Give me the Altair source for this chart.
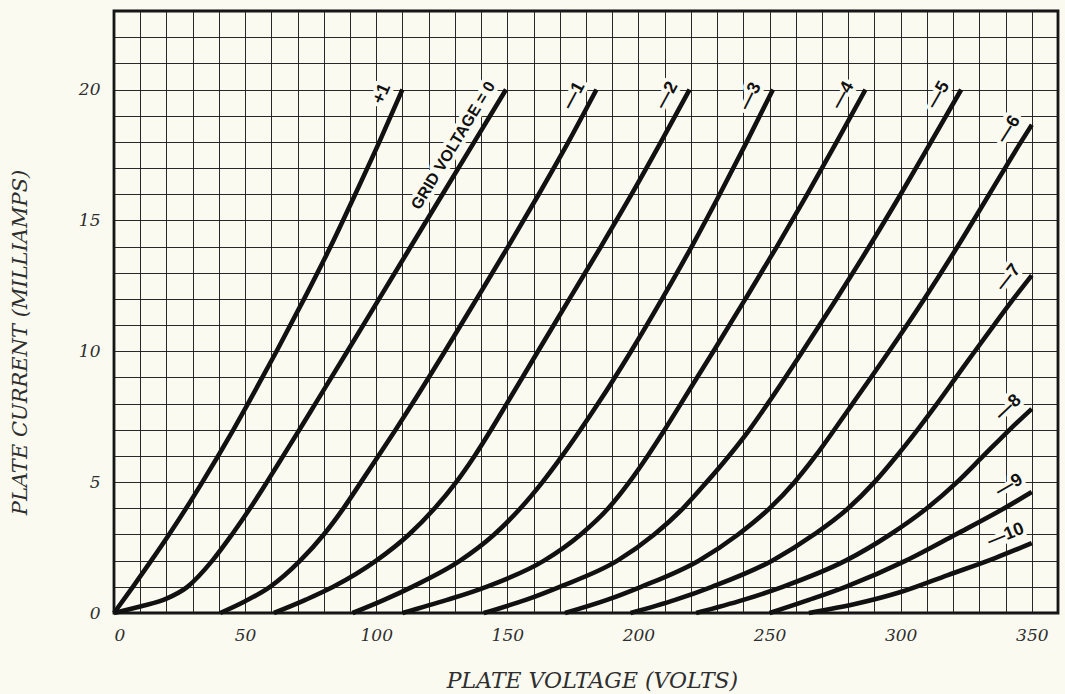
import math
import altair as alt
import pandas as pd

# ---------------- data ----------------
X_GRID = list(range(0, 361, 10))          # plate-voltage grid (volts)
Y_GRID = list(range(0, 24))               # plate-current grid (mA)

GRID_NAMES = ["+1", "0", "-1", "-2", "-3", "-4", "-5", "-6", "-7", "-8", "-9", "-10"]
CURVE_LABELS = ["+1", "GRID VOLTAGE = 0", "—1", "—2", "—3", "—4", "—5",
                "—6", "—7", "—8", "—9", "—10"]

V_P1 = [0, 7.2, 14.2, 21, 27.5, 33.7, 39.7, 45.5, 51.1, 62, 72.5, 82.6, 92, 101.2, 110]
I_P1 = [0, 1, 2, 3, 4, 5, 6, 7, 8, 10, 12, 14, 16, 18, 20]

V_0 = [0, 10, 20, 28, 37.5, 45, 51.9, 58.3, 64.5, 70.7, 76.8, 89, 101.1, 113.2, 125.3, 137.4, 149.5]
I_0 = [0, 0.25, 0.55, 1, 2, 3, 4, 5, 6, 7, 8, 10, 12, 14, 16, 18, 20]

V_M1 = [40.5, 50, 59.5, 71, 80, 87.5, 94.2, 100.8, 107.4, 113.8, 126.2, 138.3, 150.3, 162, 173.3, 184]
I_M1 = [0, 0.45, 1, 2, 3, 4, 5, 6, 7, 8, 10, 12, 14, 16, 18, 20]

V_M2 = [61, 73, 83.6, 100, 112.5, 122.3, 130.5, 137.5, 143.8, 149.8, 161.7, 173.7, 185.7, 197.4, 208.6, 219.5]
I_M2 = [0, 0.5, 1, 2, 3, 4, 5, 6, 7, 8, 10, 12, 14, 16, 18, 20]

V_M3 = [91, 103, 113.7, 132, 145, 155, 163.4, 170.9, 177.9, 184.6, 197.2, 209, 220.3, 231, 241.3, 251.3]
I_M3 = [0, 0.5, 1, 2, 3, 4, 5, 6, 7, 8, 10, 12, 14, 16, 18, 20]

V_M4 = [110, 127, 142, 164, 178, 188.5, 196.5, 203.5, 210, 216.2, 228.6, 240.8, 252.8, 264.4, 275.6, 286.6]
I_M4 = [0, 0.5, 1, 2, 3, 4, 5, 6, 7, 8, 10, 12, 14, 16, 18, 20]

V_M5 = [141, 157, 170, 192, 206, 217, 226, 234.5, 242.3, 249.3, 262.6, 275.5, 288, 300, 311.6, 323.1]
I_M5 = [0, 0.5, 1, 2, 3, 4, 5, 6, 7, 8, 10, 12, 14, 16, 18, 20]

V_M6 = [172, 188, 201, 223, 238, 250, 259.5, 267.5, 274.7, 281.7, 295.6, 309, 321.7, 333.8, 345.9, 350]
I_M6 = [0, 0.5, 1, 2, 3, 4, 5, 6, 7, 8, 10, 12, 14, 16, 18, 18.65]

V_M7 = [197, 214, 228, 251, 267, 280, 290, 298.5, 306.4, 313.9, 321.1, 328.3, 335.6, 343, 350]
I_M7 = [0, 0.5, 1, 2, 3, 4, 5, 6, 7, 8, 9, 10, 11, 12, 12.9]

V_M8 = [222, 240, 255, 279, 296, 310, 321.5, 331.5, 341.5, 350]
I_M8 = [0, 0.5, 1, 2, 3, 4, 5, 6, 7, 7.8]

V_M9 = [250, 265, 279, 302, 321, 339.5, 350]
I_M9 = [0, 0.5, 1, 2, 3, 4, 4.62]

V_M10 = [265, 283, 300, 318, 336, 350]
I_M10 = [0, 0.35, 0.8, 1.45, 2.1, 2.67]

CURVES_V = [V_P1, V_0, V_M1, V_M2, V_M3, V_M4, V_M5, V_M6, V_M7, V_M8, V_M9, V_M10]
CURVES_I = [I_P1, I_0, I_M1, I_M2, I_M3, I_M4, I_M5, I_M6, I_M7, I_M8, I_M9, I_M10]

# ---------------- layout ----------------
PLOT_W, PLOT_H = 944, 602
X_MAX, Y_MAX = 360, 23
SX, SY = PLOT_W / X_MAX, PLOT_H / Y_MAX
BG = "#fafaf0"
INK = "#1c1c1c"
TEXT_INK = "#2e2e2e"
TICK_FONT = "DejaVu Serif"
LABEL_FONT = "Liberation Sans"
ALONG = -2     # px along the curve from its end to the label's end
PERP = 16      # px from the curve to the label centre

rows = []
for name, vs, cs in zip(GRID_NAMES, CURVES_V, CURVES_I):
    for v, c in zip(vs, cs):
        rows.append({"grid": name, "V": v, "I": c})
curves = pd.DataFrame(rows)

lab_rows = []
for name, text, vs, cs in zip(GRID_NAMES, CURVE_LABELS, CURVES_V, CURVES_I):
    dxp = (vs[-1] - vs[-2]) * SX
    dyp = (cs[-1] - cs[-2]) * SY
    th = math.atan2(dyp, dxp)
    fs = 16 if len(text) > 4 else 18
    perp = PERP if len(text) > 4 else PERP + 1
    v = vs[-1] + (ALONG * math.cos(th) - perp * math.sin(th)) / SX
    c = cs[-1] + (ALONG * math.sin(th) + perp * math.cos(th)) / SY
    lab_rows.append({"grid": name, "text": text, "V": v, "I": c,
                     "angle": 360 - math.degrees(th), "fs": fs})
labels = pd.DataFrame(lab_rows)

xscale = alt.Scale(domain=[0, X_MAX], nice=False, zero=False)
yscale = alt.Scale(domain=[0, Y_MAX], nice=False, zero=False)

x_axis = alt.Axis(values=X_GRID, labelExpr="datum.value % 50 === 0 ? datum.label : ''",
                  title="PLATE VOLTAGE (VOLTS)", grid=True, gridColor=INK, gridWidth=1,
                  gridOpacity=0.95, ticks=False, domain=False, labelOverlap=False,
                  labelFont=TICK_FONT, labelFontStyle="italic", labelFontSize=17,
                  labelColor=TEXT_INK, labelPadding=14,
                  titleFont=TICK_FONT, titleFontStyle="italic", titleFontWeight="normal",
                  titleFontSize=22, titleColor=TEXT_INK,
                  titleX=478, titleY=67, titleBaseline="middle", titleAlign="center")
y_axis = alt.Axis(values=Y_GRID, labelExpr="datum.value % 5 === 0 ? datum.label : ''",
                  title="PLATE CURRENT (MILLIAMPS)", grid=True, gridColor=INK, gridWidth=1,
                  gridOpacity=0.95, ticks=False, domain=False, labelOverlap=False,
                  labelFont=TICK_FONT, labelFontStyle="italic", labelFontSize=17,
                  labelColor=TEXT_INK, labelPadding=14,
                  titleFont=TICK_FONT, titleFontStyle="italic", titleFontWeight="normal",
                  titleFontSize=21, titleColor=TEXT_INK,
                  titleX=-94, titleY=331, titleAngle=270, titleBaseline="middle",
                  titleAlign="center")

X = alt.X("V:Q", scale=xscale, axis=x_axis)
Y = alt.Y("I:Q", scale=yscale, axis=y_axis)

lines = alt.Chart(curves).mark_line(
    color="#111111", strokeWidth=4.6, interpolate="monotone", strokeCap="butt"
).encode(x=X, y=Y, detail="grid:N")

halo = alt.Chart(labels).mark_text(
    align="right", baseline="middle", font=LABEL_FONT, fontWeight="bold",
    stroke=BG, strokeWidth=8, strokeJoin="round", fill=BG
).encode(
    x=X, y=Y, text="text:N",
    angle=alt.Angle("angle:Q", scale=None), size=alt.Size("fs:Q", scale=None),
)

text = alt.Chart(labels).mark_text(
    align="right", baseline="middle", font=LABEL_FONT, fontWeight="bold",
    color="#111111"
).encode(
    x=X, y=Y, text="text:N",
    angle=alt.Angle("angle:Q", scale=None), size=alt.Size("fs:Q", scale=None),
)

chart = alt.layer(lines, halo, text).properties(
    width=PLOT_W, height=PLOT_H, background=BG,
    autosize=alt.AutoSizeParams(type="none"),
    padding={"left": 114, "top": 11, "right": 7, "bottom": 81},
).configure_view(stroke="#111111", strokeWidth=2.8, fill=BG)

chart.save("out.html", embed_options={"renderer": "svg", "actions": False})
